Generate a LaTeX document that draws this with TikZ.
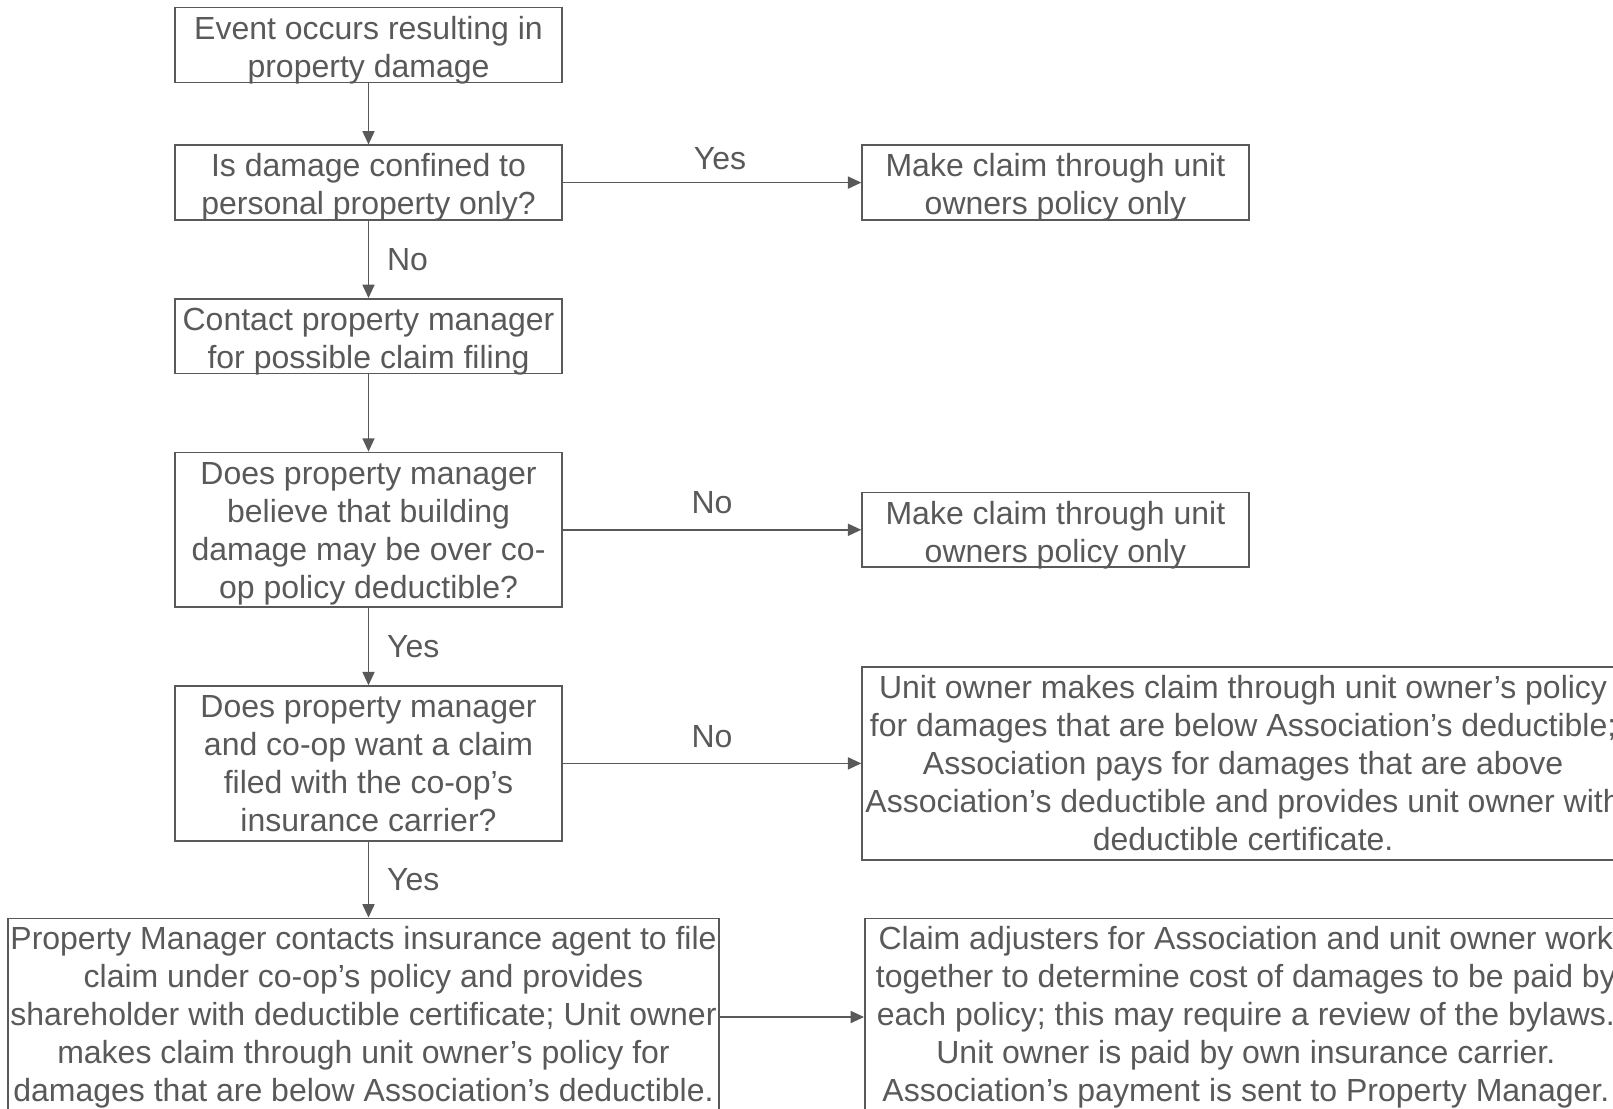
\documentclass[tikz,border=0pt]{standalone}
\usepackage{fontspec}
\setmainfont{Liberation Sans}
\usetikzlibrary{arrows.meta,positioning}
\definecolor{linegrey}{HTML}{595959}

\begin{document}
\begin{tikzpicture}[
    x=0.75pt, y=-0.75pt,
    node distance=58pt and 224pt,
    box/.style={rectangle, draw=linegrey, text=linegrey, line width=1.2pt, align=center, inner sep=2pt, font=\fontsize{24}{28.5}\selectfont, minimum width=290pt, text height=50.2pt, text depth=1.8pt},
    tall/.style={text height=107.2pt, text depth=4.8pt},
    taller/.style={text height=135.7pt, text depth=8.3pt},
    line/.style={-{Triangle[length=10pt,width=9pt]}, draw=linegrey, line width=1.2pt},
    lbl/.style={text=linegrey, font=\fontsize{24}{28.5}\selectfont}
]
\clip (0,0) rectangle (1613,1109);
\node[box] (event) at (368.5,45) {Event occurs resulting in\\property damage};
\node[box, below=46pt of event] (personal) {Is damage confined to\\personal property only?};
\node[box, right=of personal] (ownonly) {Make claim through unit\\owners policy only};
\node[box, below=of personal] (manager) {Contact property manager\\for possible claim filing};
\node[box, tall, below=of manager] (overded) {Does property manager\\believe that building\\damage may be over co-\\op policy deductible?};
\node[box, right=of overded] (ownonly2) {Make claim through unit\\owners policy only};
\node[box, tall, below=of overded] (wantclaim) {Does property manager\\and co-op want a claim\\filed with the co-op’s\\insurance carrier?};
\node[box, taller, text depth=5.3pt, minimum width=571.5pt, right=of wantclaim] (splitpay) {Unit owner makes claim through unit owner’s policy\\for damages that are below Association’s deductible;\\Association pays for damages that are above\\Association’s deductible and provides unit owner with\\deductible certificate.};
\node[box, taller, minimum width=530pt, below=57pt of wantclaim, xshift=-3.75pt] (pmfiles) {Property Manager contacts insurance agent to file\\claim under co-op’s policy and provides\\shareholder with deductible certificate; Unit owner\\makes claim through unit owner’s policy for\\damages that are below Association’s deductible.};
\node[box, taller, minimum width=571.5pt, right=108pt of pmfiles] (adjusters) {Claim adjusters for Association and unit owner work\\together to determine cost of damages to be paid by\\each policy; this may require a review of the bylaws.\\Unit owner is paid by own insurance carrier.\\Association’s payment is sent to Property Manager.};

\draw[line] (event) -- (personal);
\draw[line] (personal) -- node[lbl, above=6pt, xshift=6pt] {Yes} (ownonly);
\draw[line] (personal) -- node[lbl, right=10pt] {No} (manager);
\draw[line] (manager) -- (overded);
\draw[line] (overded) -- node[lbl, above=8pt] {No} (ownonly2);
\draw[line] (overded) -- node[lbl, right=10pt] {Yes} (wantclaim);
\draw[line] (wantclaim) -- node[lbl, above=8pt] {No} (splitpay);
\draw[line] (wantclaim.south) -- node[lbl, right=10pt] {Yes} (wantclaim.south |- pmfiles.north);
\draw[line] (pmfiles) -- (adjusters);
\end{tikzpicture}
\end{document}
